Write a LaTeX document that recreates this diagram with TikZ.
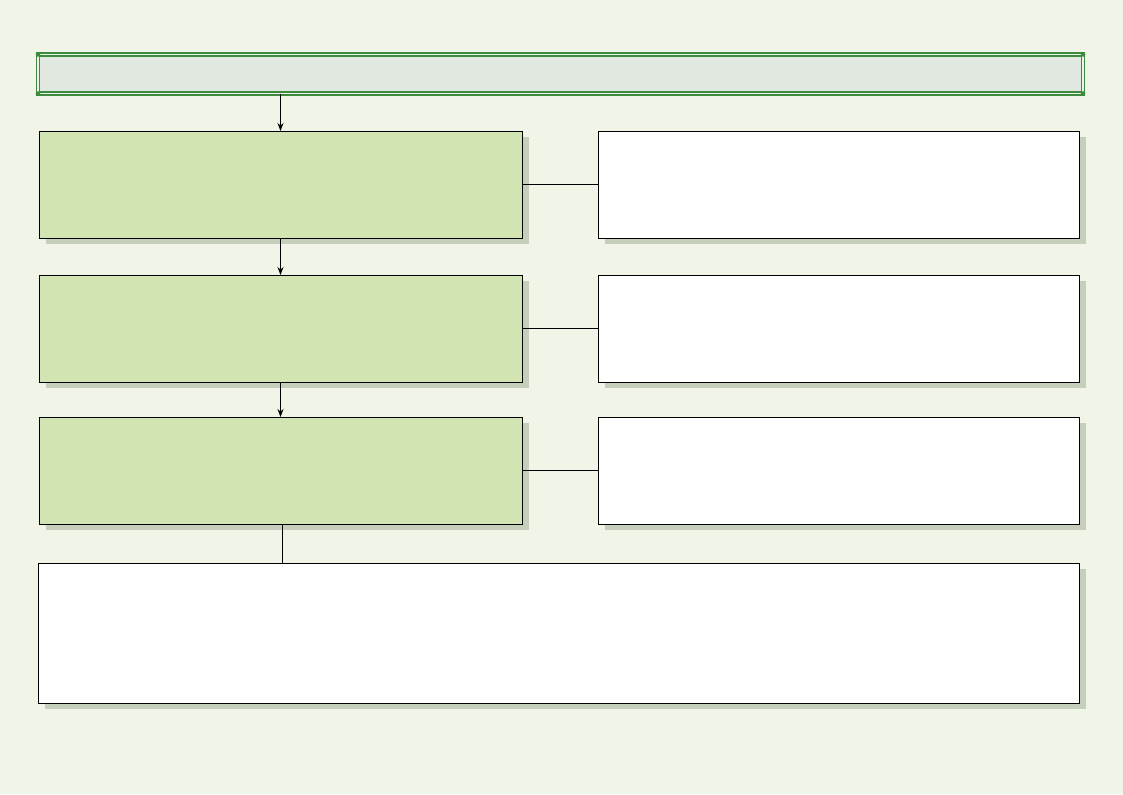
\documentclass[tikz,border=0pt]{standalone}
\usetikzlibrary{arrows.meta,shadows}

\definecolor{bgcream}{HTML}{F0F5E7}
\definecolor{titlefill}{HTML}{E1E8DF}
\definecolor{titlegreen}{HTML}{3D8C3D}
\definecolor{stepfill}{HTML}{D1E4B2}
\definecolor{shadowgrey}{HTML}{C6CFBB}

\tikzset{
  boxshadow/.style={drop shadow={shadow xshift=5pt,shadow yshift=-4.5pt,fill=shadowgrey,opacity=1}},
  leftbox/.style={draw=black,line width=0.65pt,fill=stepfill,inner sep=0pt,outer sep=0pt,
    minimum width=362.25pt,minimum height=80.25pt,boxshadow},
  rightbox/.style={draw=black,line width=0.65pt,fill=white,inner sep=0pt,outer sep=0pt,
    minimum width=360.75pt,minimum height=80.25pt,boxshadow},
  flow/.style={line width=0.7pt,-{Stealth[length=6pt,width=4.5pt]}},
  link/.style={line width=0.7pt}
}

\begin{document}
\begin{tikzpicture}[x=0.75pt,y=-0.75pt]
      \fill[bgcream] (0,0) rectangle (1123,794);
      \useasboundingbox (0,0) rectangle (1123,794);

      %%%%%%%%%%%%%%%%%%%%%%%%%%%%%%%%%%%%%%%%%%%%%%%%%%%%%%%%%%%%%%%%%%%%%%%%%%%
      %%%%  Title bar
      \node[draw=titlegreen,line width=1.1pt,double=titlefill!60!white,double distance=1pt,
        fill=titlefill,inner sep=0pt,outer sep=0pt,
        minimum width=783.75pt,minimum height=29.25pt] (title) at (560.5,74) {};
      \foreach \c in {north west,north east,south west,south east}
       {\fill[titlegreen] (title.\c) circle (1.7pt);};

      %%%%%%%%%%%%%%%%%%%%%%%%%%%%%%%%%%%%%%%%%%%%%%%%%%%%%%%%%%%%%%%%%%%%%%%%%%%
      %%%%  Rows
      \foreach \i/\y in {1/184.5,2/328.5,3/470.5}
      {\node[leftbox] (l\i) at (280.5,\y) {};
       \node[rightbox] (r\i) at (838.5,\y) {};
       \draw[link] (l\i) -- (r\i);
      };

      \node[rightbox,minimum width=780.75pt,minimum height=105pt] (sum) at (558.5,633) {};

      %%%%%%%%%%%%%%%%%%%%%%%%%%%%%%%%%%%%%%%%%%%%%%%%%%%%%%%%%%%%%%%%%%%%%%%%%%%
      \draw[flow] (title.south -| l1.north) -- (l1.north);
      \draw[flow] (l1) -- (l2);
      \draw[flow] (l2) -- (l3);
      \draw[link] ([xshift=1.5pt]l3.south) -- ([xshift=1.5pt]l3.south |- sum.north);
    \end{tikzpicture}
\end{document}
